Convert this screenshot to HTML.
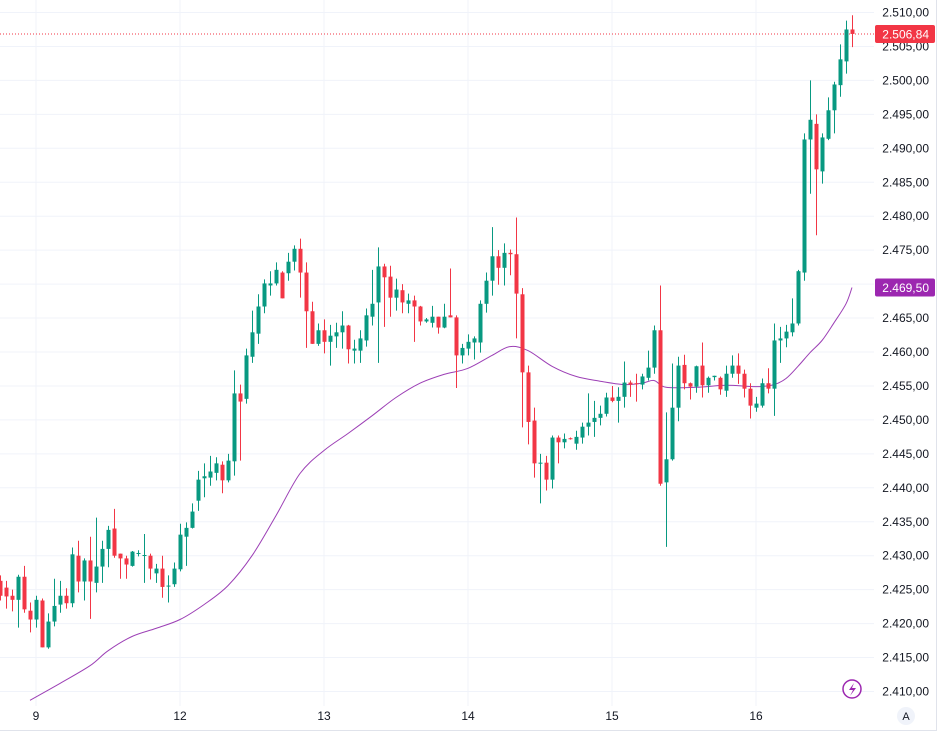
<!DOCTYPE html>
<html><head><meta charset="utf-8"><style>
html,body{margin:0;padding:0;background:#fff;}
body{width:939px;height:736px;overflow:hidden;font-family:"Liberation Sans",sans-serif;}
svg text{font-family:"Liberation Sans",sans-serif;}
</style></head><body>
<svg id="chart" width="939" height="736" viewBox="0 0 939 736" xmlns="http://www.w3.org/2000/svg">
<g id="grid"></g>
<g id="ma"></g>
<g id="candles"></g>
<g id="yaxis"></g>
<g id="xaxis"></g>
</svg>
<script>
const candles = [
[2426.3,2427.1,2423.4,2424.1],[2425.3,2426.3,2422.2,2424.0],[2424.1,2425.0,2421.8,2423.5],[2423.5,2427.2,2419.4,2426.9],
[2426.9,2428.5,2421.6,2422.1],[2421.9,2423.1,2418.7,2420.6],[2420.6,2424.1,2419.4,2423.5],[2423.4,2423.7,2416.5,2416.5],
[2416.5,2421.5,2416.3,2420.3],[2420.3,2426.6,2419.6,2422.6],[2422.8,2426.3,2421.6,2424.1],[2424.1,2425.2,2422.2,2423.0],
[2423.0,2431.2,2422.4,2430.2],[2430.0,2432.2,2424.6,2426.2],[2426.2,2429.6,2423.4,2429.3],[2429.3,2432.8,2420.7,2426.2],
[2426.0,2435.6,2424.6,2428.4],[2428.4,2432.2,2426.0,2431.0],[2431.0,2434.4,2428.3,2433.8],[2434.0,2436.9,2429.7,2430.0],
[2430.3,2430.3,2426.6,2429.6],[2429.6,2430.0,2426.6,2428.7],[2428.5,2430.7,2428.4,2430.6],[2430.3,2430.8,2429.9,2430.4],
[2430.0,2433.2,2426.0,2430.1],[2430.0,2430.3,2426.5,2428.1],[2427.4,2428.8,2426.0,2428.1],[2428.1,2430.0,2423.8,2425.4],
[2425.5,2427.1,2423.1,2425.6],[2425.8,2429.0,2425.4,2428.1],[2428.0,2434.7,2427.7,2433.1],[2432.8,2434.9,2428.5,2434.1],
[2434.1,2437.7,2434.0,2436.5],[2438.1,2442.5,2436.6,2441.2],[2441.4,2443.6,2438.6,2441.7],[2441.5,2444.7,2440.3,2442.4],
[2442.2,2444.5,2441.1,2443.6],[2443.4,2443.9,2439.2,2441.1],[2441.1,2445.0,2440.8,2444.0],[2443.9,2457.3,2441.8,2453.9],
[2453.9,2455.2,2444.0,2452.7],[2453.1,2460.5,2452.4,2459.5],[2459.3,2466.1,2458.4,2462.9],[2462.7,2468.5,2461.2,2466.7],
[2466.7,2470.7,2465.7,2470.1],[2469.8,2471.9,2468.3,2470.1],[2470.1,2473.2,2469.8,2472.1],[2471.7,2471.9,2467.9,2467.9],
[2471.6,2474.6,2470.5,2473.3],[2473.3,2475.7,2472.0,2475.2],[2475.2,2476.7,2468.0,2471.7],[2471.7,2473.2,2460.6,2466.0],
[2466.0,2467.4,2461.2,2461.2],[2461.2,2464.2,2460.9,2463.2],[2463.2,2464.8,2459.8,2461.5],[2461.5,2464.0,2458.0,2462.4],
[2462.3,2464.3,2460.6,2462.9],[2462.9,2466.0,2460.5,2463.9],[2463.9,2464.0,2458.3,2460.4],[2460.2,2461.8,2458.3,2460.5],
[2460.2,2463.2,2458.4,2462.0],[2461.7,2466.4,2460.8,2465.4],[2465.2,2472.1,2463.9,2467.1],[2467.3,2475.4,2458.4,2472.6],
[2472.6,2473.0,2463.7,2471.0],[2471.1,2472.7,2465.2,2468.0],[2468.0,2470.8,2466.1,2469.2],[2469.1,2470.0,2465.7,2467.3],
[2467.1,2468.6,2465.7,2467.6],[2467.6,2468.3,2461.5,2466.7],[2466.7,2466.8,2463.9,2464.5],[2464.5,2465.0,2464.3,2464.8],
[2464.3,2466.8,2463.6,2465.2],[2465.2,2465.2,2462.7,2463.6],[2463.6,2467.1,2463.5,2465.2],[2465.4,2472.3,2465.1,2465.1],
[2465.1,2465.4,2454.7,2459.5],[2459.5,2461.2,2458.3,2460.6],[2460.5,2462.6,2459.5,2461.5],[2461.4,2462.3,2458.9,2462.0],
[2461.4,2467.6,2459.9,2467.1],[2467.1,2471.7,2465.8,2470.5],[2470.5,2478.4,2468.3,2474.1],[2474.1,2475.0,2469.9,2472.4],
[2472.4,2476.0,2469.8,2474.6],[2474.6,2475.1,2471.3,2474.4],[2474.4,2479.8,2462.0,2468.6],[2468.5,2469.4,2448.9,2457.0],
[2457.0,2458.0,2446.4,2449.7],[2449.9,2451.8,2441.5,2443.6],[2443.6,2445.0,2437.7,2443.7],[2443.7,2444.7,2439.6,2441.2],
[2441.2,2447.7,2439.9,2447.4],[2447.4,2447.7,2443.6,2446.7],[2446.7,2448.0,2445.8,2447.2],[2447.3,2447.4,2447.1,2447.2],
[2446.5,2448.4,2445.6,2447.5],[2447.4,2449.6,2446.5,2449.0],[2449.0,2453.9,2447.7,2449.6],[2449.7,2452.8,2447.5,2450.3],
[2450.3,2452.1,2449.2,2450.9],[2450.9,2454.0,2450.5,2453.3],[2453.3,2455.0,2452.6,2452.8],[2452.8,2454.8,2449.6,2453.4],
[2453.4,2458.6,2451.8,2455.5],[2455.5,2455.8,2453.4,2455.2],[2455.4,2456.8,2452.7,2455.3],[2455.2,2456.8,2454.5,2456.4],
[2456.2,2460.2,2455.8,2457.7],[2457.7,2463.9,2456.8,2463.2],[2463.2,2469.8,2440.3,2440.6],[2440.8,2451.1,2431.3,2444.2],
[2444.2,2458.3,2444.0,2451.8],[2451.8,2459.3,2449.8,2458.0],[2458.1,2459.6,2454.5,2455.4],[2455.4,2455.5,2453.0,2454.9],
[2454.9,2458.0,2454.0,2457.9],[2458.0,2461.4,2453.3,2455.1],[2455.1,2456.4,2454.0,2456.2],[2456.3,2456.5,2455.8,2456.5],
[2456.2,2456.4,2453.7,2454.5],[2454.3,2458.0,2453.4,2456.8],[2456.8,2459.5,2456.2,2458.0],[2458.0,2459.8,2455.3,2456.8],
[2456.8,2457.4,2453.3,2454.6],[2454.6,2455.4,2450.2,2452.1],[2451.8,2453.4,2451.2,2452.4],[2452.1,2456.1,2451.8,2455.4],
[2455.4,2457.6,2453.9,2454.6],[2454.6,2464.2,2450.6,2461.7],[2461.7,2463.7,2458.4,2462.0],[2462.0,2464.0,2460.7,2463.0],
[2462.9,2467.9,2462.3,2464.2],[2464.2,2472.1,2463.9,2471.9],[2471.7,2492.2,2470.5,2491.3],[2491.3,2500.0,2483.3,2494.2],
[2493.6,2495.0,2477.2,2486.9],[2486.6,2492.2,2484.8,2491.6],[2491.4,2497.5,2491.2,2495.6],[2495.6,2499.8,2492.2,2499.4],
[2499.3,2505.3,2497.6,2503.1],[2502.8,2508.8,2501.0,2507.5],[2507.5,2509.6,2504.9,2506.84]
];
const maIdx = [5,10,15,18,22,26,30,34,38,42,46,50,54,58,62,66,70,74,78,82,85,88,92,96,100,104,107,109,111,116,121,126,129,131,133,135,137,139,141,142];
const maVal = [2408.7,2411.2,2413.8,2416.0,2418.1,2419.3,2420.6,2422.8,2425.6,2430.0,2435.9,2442.1,2445.5,2448.0,2450.6,2453.3,2455.4,2456.7,2457.6,2459.5,2460.8,2460.2,2457.9,2456.4,2455.7,2455.2,2455.4,2455.8,2454.8,2454.8,2455.1,2454.9,2455.2,2456.1,2457.9,2459.9,2461.7,2464.3,2467.1,2469.5];
const yTicks = [2410,2415,2420,2425,2430,2435,2440,2445,2450,2455,2460,2465,2470,2475,2480,2485,2490,2495,2500,2505,2510];
const dayIdx = [6,30,54,78,102,126];
const dayLabels = ["9","12","13","14","15","16"];
const lastPrice = 2506.84;
const maLast = 2469.50;

const NS="http://www.w3.org/2000/svg";
const X = i => 6*i;
const Y = p => 12.5 + (2510 - p)*6.79;
const PLOT_R = 874;
function mk(tag, attrs, parent){const e=document.createElementNS(NS,tag);for(const k in attrs)e.setAttribute(k,attrs[k]);parent.appendChild(e);return e;}
function fmt(v){const s=v.toFixed(2).split(".");return s[0].replace(/\B(?=(\d{3})+(?!\d))/g,".")+","+s[1];}

const grid=document.getElementById("grid");
yTicks.forEach(t=>{
  const l=mk("line",{x1:0,x2:PLOT_R,y1:Y(t),y2:Y(t),stroke:"#f0f3fa","stroke-width":1},grid);
  
  
});
dayIdx.forEach(d=>{
  const l=mk("line",{x1:X(d),x2:X(d),y1:0,y2:706,stroke:"#f0f3fa","stroke-width":1},grid);
  
  
});
const pl=mk("line",{x1:0,x2:PLOT_R,y1:Y(lastPrice),y2:Y(lastPrice),stroke:"#f23645","stroke-width":1,"stroke-dasharray":"1 2"},grid);



const ma=document.getElementById("ma");
const pts=maIdx.map((i,k)=>[X(i),Y(maVal[k])]);
let d="M"+pts[0][0]+" "+pts[0][1].toFixed(1);
for(let k=0;k<pts.length-1;k++){
  const p0=pts[Math.max(0,k-1)],p1=pts[k],p2=pts[k+1],p3=pts[Math.min(pts.length-1,k+2)];
  const c1=[p1[0]+(p2[0]-p0[0])/6,p1[1]+(p2[1]-p0[1])/6];
  const c2=[p2[0]-(p3[0]-p1[0])/6,p2[1]-(p3[1]-p1[1])/6];
  d+=" C"+c1[0].toFixed(1)+" "+c1[1].toFixed(1)+" "+c2[0].toFixed(1)+" "+c2[1].toFixed(1)+" "+p2[0].toFixed(1)+" "+p2[1].toFixed(1);
}
const mp=mk("path",{d:d,fill:"none",stroke:"#9c3fb5","stroke-width":1},ma);



const cg=document.getElementById("candles");
candles.forEach((c,i)=>{
  const [o,h,l,cl]=c;
  const up = cl>=o;
  const col = up?"#089981":"#f23645";
  const g=mk("g",{},cg);
  
  
  mk("line",{x1:X(i)+0.5,x2:X(i)+0.5,y1:Y(h),y2:Y(l),stroke:col,"stroke-width":1},g);
  const top=Y(Math.max(o,cl)), bot=Y(Math.min(o,cl));
  mk("rect",{x:X(i)-1.5,y:top,width:4,height:Math.max(1,bot-top),fill:col},g);
});

const ya=document.getElementById("yaxis");
yTicks.forEach(t=>{
  const tx=mk("text",{x:929,y:Y(t)+4,"text-anchor":"end","font-size":12,fill:"#131722"},ya);
  
  
  tx.textContent=fmt(t);
});
function badge(v,color,name){
  const g=mk("g",{},ya);
  
  
  mk("rect",{x:875,y:Y(v)-9,width:60,height:18,rx:2,fill:color},g);
  const t=mk("text",{x:929,y:Y(v)+4.5,"text-anchor":"end","font-size":12,fill:"#fff"},g);
  t.textContent=fmt(v);
}
badge(maLast,"#9c27b0","ma-value-badge");
badge(lastPrice,"#f23645","last-price-badge");

const xa=document.getElementById("xaxis");
dayIdx.forEach((dd,k)=>{
  const t=mk("text",{x:X(dd),y:720,"text-anchor":"middle","font-size":12,fill:"#131722"},xa);
  
  
  t.textContent=dayLabels[k];
});
const bl=mk("line",{x1:0,x2:937,y1:730.5,y2:730.5,stroke:"#e0e3eb"},xa);


const rl=mk("line",{x1:936.5,x2:936.5,y1:0,y2:731,stroke:"#e0e3eb"},xa);


const ab=mk("g",{},xa);


mk("circle",{cx:906,cy:716,r:9,fill:"#f0f3fa"},ab);
const at=mk("text",{x:906,y:720,"text-anchor":"middle","font-size":11,fill:"#131722"},ab);
at.textContent="A";
const lb=mk("g",{},xa);


mk("circle",{cx:852,cy:689,r:9,fill:"#fff",stroke:"#9c27b0","stroke-width":1.5},lb);
mk("path",{d:"M854 683 L849 690 L853 690 L850 696 L856 688 L852 688 Z",fill:"#9c27b0"},lb);
</script>
</body></html>
